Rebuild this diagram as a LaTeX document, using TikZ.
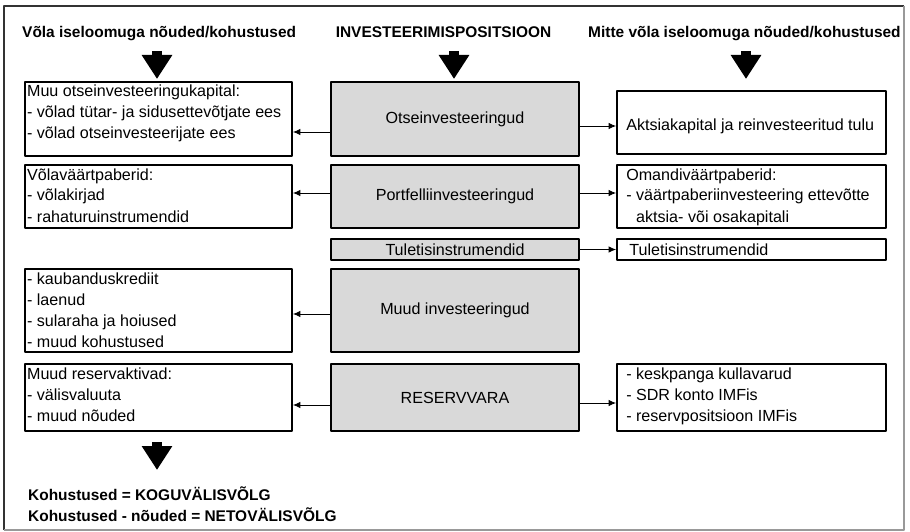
\documentclass[tikz,border=0pt]{standalone}
\usepackage{fontspec}
\setmainfont{Liberation Sans}
\usetikzlibrary{arrows.meta,calc}

\begin{document}
\begin{tikzpicture}[x=1pt, y=-1pt, >={Latex[length=7.5pt,width=6.5pt]}, line join=round,
  txt/.style={inner sep=0pt, font=\fontsize{16.1}{21}\selectfont, align=left},
  hd/.style={inner sep=0pt, font=\fontsize{15.45}{21}\selectfont\bfseries},
  wbox/.style={draw, line width=1.8pt, inner sep=0pt},
  gbox/.style={wbox, fill=black!15, font=\fontsize{16.1}{21}\selectfont},
  bigarr/.style={line width=10pt, -{Triangle[width=29pt,length=24pt]}},
  link/.style={->, line width=0.9pt}]
  \useasboundingbox (0,0) rectangle (910,532);

  % frame
  \draw[black!80, line width=1.4pt] (4,530) -- (4,6) -- (904,6);
  \draw[black!40, line width=1.2pt] (904,6) -- (904,530) -- (4,530);

  % headings
  \node[hd, anchor=base west] (hl) at (22,38) {Võla iseloomuga nõuded/kohustused};
  \node[hd, anchor=base] (hm) at (443.5,38) {INVESTEERIMISPOSITSIOON};
  \node[hd, anchor=base west] (hr) at (588,38) {Mitte võla iseloomuga nõuded/kohustused};

  \coordinate (al) at (157,51);
  \coordinate (am) at (454,51);
  \coordinate (ar) at (746,51);
  \coordinate (ab) at (157,442);
  \draw[bigarr] (al) -- ++(0,28);
  \draw[bigarr] (am) -- ++(0,28);
  \draw[bigarr] (ar) -- ++(0,28);
  \draw[bigarr] (ab) -- ++(0,28);

  % middle column
  \node[gbox, minimum width=248pt, minimum height=74pt] (oi) at (455,119) {Otseinvesteeringud};
  \node[gbox, minimum width=248pt, minimum height=63pt] (pi) at (455,196.5) {Portfelliinvesteeringud};
  \node[gbox, minimum width=248pt, minimum height=21pt] (ti) at (455,249.5) {Tuletisinstrumendid};
  \node[gbox, minimum width=248pt, minimum height=83pt] (mi) at (455,310.5) {Muud investeeringud};
  \node[gbox, minimum width=248pt, minimum height=67pt] (rv) at (455,397.5) {RESERVVARA};

  % left column
  \node[wbox, minimum width=267pt, minimum height=74pt] (lo) at (158.5,119) {};
  \node[wbox, minimum width=267pt, minimum height=63pt] (lp) at (158.5,196.5) {};
  \node[wbox, minimum width=267pt, minimum height=83pt] (lm) at (158.5,310.5) {};
  \node[wbox, minimum width=267pt, minimum height=67pt] (lr) at (158.5,397.5) {};
  \node[txt, anchor=north west] (lot) at ([xshift=2.8pt,yshift=-1pt]lo.north west)
    {\strut Muu otseinvesteeringukapital:\\- võlad tütar- ja sidusettevõtjate ees\\- võlad otseinvesteerijate ees};
  \node[txt, anchor=north west] (lpt) at ([xshift=2.8pt,yshift=-1pt]lp.north west)
    {\strut Võlaväärtpaberid:\\- võlakirjad\\- rahaturuinstrumendid};
  \node[txt, anchor=north west] (lmt) at ([xshift=2.8pt,yshift=-1pt]lm.north west)
    {\strut - kaubanduskrediit\\- laenud\\- sularaha ja hoiused\\- muud kohustused};
  \node[txt, anchor=north west] (lrt) at ([xshift=2.8pt,yshift=-1pt]lr.north west)
    {\strut Muud reservaktivad:\\- välisvaluuta\\- muud nõuded};

  % right column
  \node[wbox, minimum width=269pt, minimum height=63pt] (ro) at (751.5,122.5) {};
  \node[wbox, minimum width=269pt, minimum height=63pt] (rp) at (751.5,196.5) {};
  \node[wbox, minimum width=269pt, minimum height=21pt] (rt) at (751.5,249.5) {};
  \node[wbox, minimum width=269pt, minimum height=67pt] (rr) at (751.5,397.5) {};
  \node[txt, anchor=west] (rot) at ([xshift=10pt,yshift=-4pt]ro.west)
    {Aktsiakapital ja reinvesteeritud tulu};
  \node[txt, anchor=north west] (rpt) at ([xshift=10pt,yshift=-1pt]rp.north west)
    {\strut Omandiväärtpaberid:\\- väärtpaberiinvesteering ettevõtte\\\phantom{- }aktsia- või osakapitali};
  \node[txt, anchor=west] (rtt) at ([xshift=13pt]rt.west) {Tuletisinstrumendid};
  \node[txt, anchor=north west] (rrt) at ([xshift=10pt,yshift=-1pt]rr.north west)
    {\strut - keskpanga kullavarud\\- SDR konto IMFis\\- reservpositsioon IMFis};

  % links
  \coordinate (c1) at ([yshift=-13pt]oi.west);
  \coordinate (c2) at ([yshift=3.5pt]pi.west);
  \coordinate (c4) at ([yshift=-3.5pt]mi.west);
  \coordinate (c5) at ([yshift=-7.5pt]rv.west);
  \draw[link] (c1) -- (c1 -| lo.east);
  \draw[link] (c2) -- (c2 -| lp.east);
  \draw[link] (c4) -- (c4 -| lm.east);
  \draw[link] (c5) -- (c5 -| lr.east);
  \coordinate (d1) at ([yshift=-7pt]oi.east);
  \coordinate (d2) at ([yshift=3.5pt]pi.east);
  \coordinate (d3) at (ti.east);
  \coordinate (d5) at ([yshift=-5.5pt]rv.east);
  \draw[link] (d1) -- (d1 -| ro.west);
  \draw[link] (d2) -- (d2 -| rp.west);
  \draw[link] (d3) -- (d3 -| rt.west);
  \draw[link] (d5) -- (d5 -| rr.west);

  % summary
  \node[hd, anchor=base west] (sum1) at (28,500) {Kohustused = KOGUVÄLISVÕLG};
  \node[hd, anchor=base west] (sum2) at (28,521) {Kohustused - nõuded = NETOVÄLISVÕLG};
\end{tikzpicture}
\end{document}
